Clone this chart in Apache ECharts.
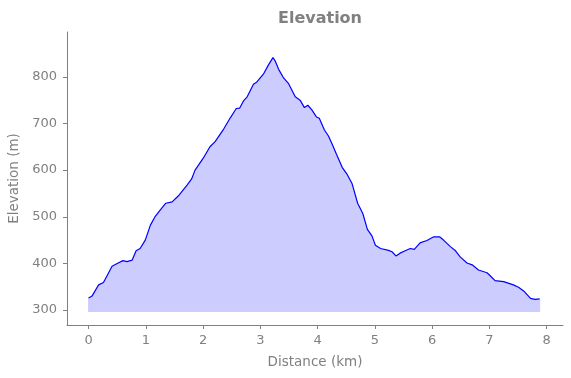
<!DOCTYPE html>
<html>
<head>
<meta charset="utf-8">
<script src="https://cdn.jsdelivr.net/npm/echarts@6/dist/echarts.min.js"></script>
<style>
  html, body { margin: 0; padding: 0; background: #fff; }
  #chart { width: 571px; height: 378px; }
</style>
</head>
<body>
<div id="chart"></div>
<script>
// distance along the route (km) and elevation (m)
const distance = [
  0.00, 0.06, 0.175, 0.26, 0.41, 0.50, 0.60, 0.67, 0.76, 0.83, 0.90, 0.99,
  1.08, 1.165, 1.25, 1.35, 1.46, 1.57, 1.72, 1.80, 1.86, 2.00, 2.12, 2.21,
  2.36, 2.47, 2.58, 2.64, 2.71, 2.77, 2.88, 2.94, 3.06, 3.14, 3.22, 3.26,
  3.32, 3.41, 3.49, 3.61, 3.70, 3.77, 3.83, 3.90, 3.98, 4.03, 4.12, 4.19,
  4.25, 4.33, 4.43, 4.51, 4.60, 4.70, 4.79, 4.87, 4.95, 5.01, 5.10, 5.24,
  5.30, 5.37, 5.44, 5.53, 5.62, 5.69, 5.79, 5.91, 6.03, 6.13, 6.20, 6.32,
  6.41, 6.49, 6.61, 6.70, 6.81, 6.96, 7.02, 7.10, 7.25, 7.42, 7.51, 7.60,
  7.72, 7.80, 7.88
]
const elevation = [
  326, 330, 354, 359, 394, 400, 406, 404, 407, 427, 432, 450,
  482, 501, 514, 529, 532, 545, 568, 581, 600, 625, 650, 661,
  688, 711, 732, 733, 749, 757, 784, 789, 807, 825, 841, 834,
  816, 797, 786, 757, 749, 734, 739, 729, 714, 711, 686, 673,
  657, 634, 606, 592, 572, 529, 507, 473, 459, 439, 432, 428,
  425, 416, 422, 427, 432, 430, 444, 449, 457, 457, 450, 436,
  427, 414, 401, 397, 386, 380, 373, 363, 361, 354, 349, 341,
  325, 323, 324
]
const fillBase = 297
const xTicks = [0, 1, 2, 3, 4, 5, 6, 7, 8]
const yTicks = [300, 400, 500, 600, 700, 800]

const grey = '#808080'
const profile = distance.map((d, i) => [d, elevation[i]])
const last = distance.length - 1
// faint edge of the filled polygon
const outline = [
  [distance[0], elevation[0]],
  [distance[0], fillBase],
  [distance[last], fillBase],
  [distance[last], elevation[last]]
]

const chart = echarts.init(document.getElementById('chart'))
chart.setOption({
  animation: false,
  textStyle: { fontFamily: 'DejaVu Sans' },
  title: {
    text: 'Elevation',
    left: 315,
    textAlign: 'center',
    top: 6,
    textStyle: { color: grey, fontSize: 16, fontWeight: 'bold', fontFamily: 'DejaVu Sans' }
  },
  grid: { left: 67, right: 8, top: 32, bottom: 53, containLabel: false, outerBoundsMode: 'none' },
  xAxis: {
    type: 'value',
    min: -0.377,
    max: 8.287,
    name: 'Distance (km)',
    nameLocation: 'middle',
    nameGap: 30,
    nameTextStyle: { color: grey, fontSize: 13.5 },
    axisLine: { onZero: false, lineStyle: { color: grey, width: 1 } },
    axisTick: { customValues: xTicks, length: 4, lineStyle: { color: grey } },
    axisLabel: { customValues: xTicks, color: grey, fontSize: 13, margin: 9 },
    splitLine: { show: false }
  },
  yAxis: {
    type: 'value',
    min: 268,
    max: 896,
    name: 'Elevation (m)',
    nameLocation: 'middle',
    nameGap: 46,
    nameTextStyle: { color: grey, fontSize: 13.5 },
    axisLine: { show: true, onZero: false, lineStyle: { color: grey, width: 1 } },
    axisTick: { show: true, customValues: yTicks, length: 4, lineStyle: { color: grey } },
    axisLabel: { customValues: yTicks, color: grey, fontSize: 13, margin: 10 },
    splitLine: { show: false }
  },
  series: [
    {
      type: 'line',
      data: profile,
      showSymbol: false,
      lineStyle: { color: '#0000ff', width: 1.2 },
      areaStyle: { color: '#ccccff', opacity: 1, origin: fillBase },
      z: 3
    },
    {
      type: 'line',
      data: outline,
      showSymbol: false,
      lineStyle: { color: 'rgba(0,0,255,0.2)', width: 1 },
      z: 2
    }
  ]
})
</script>
</body>
</html>
